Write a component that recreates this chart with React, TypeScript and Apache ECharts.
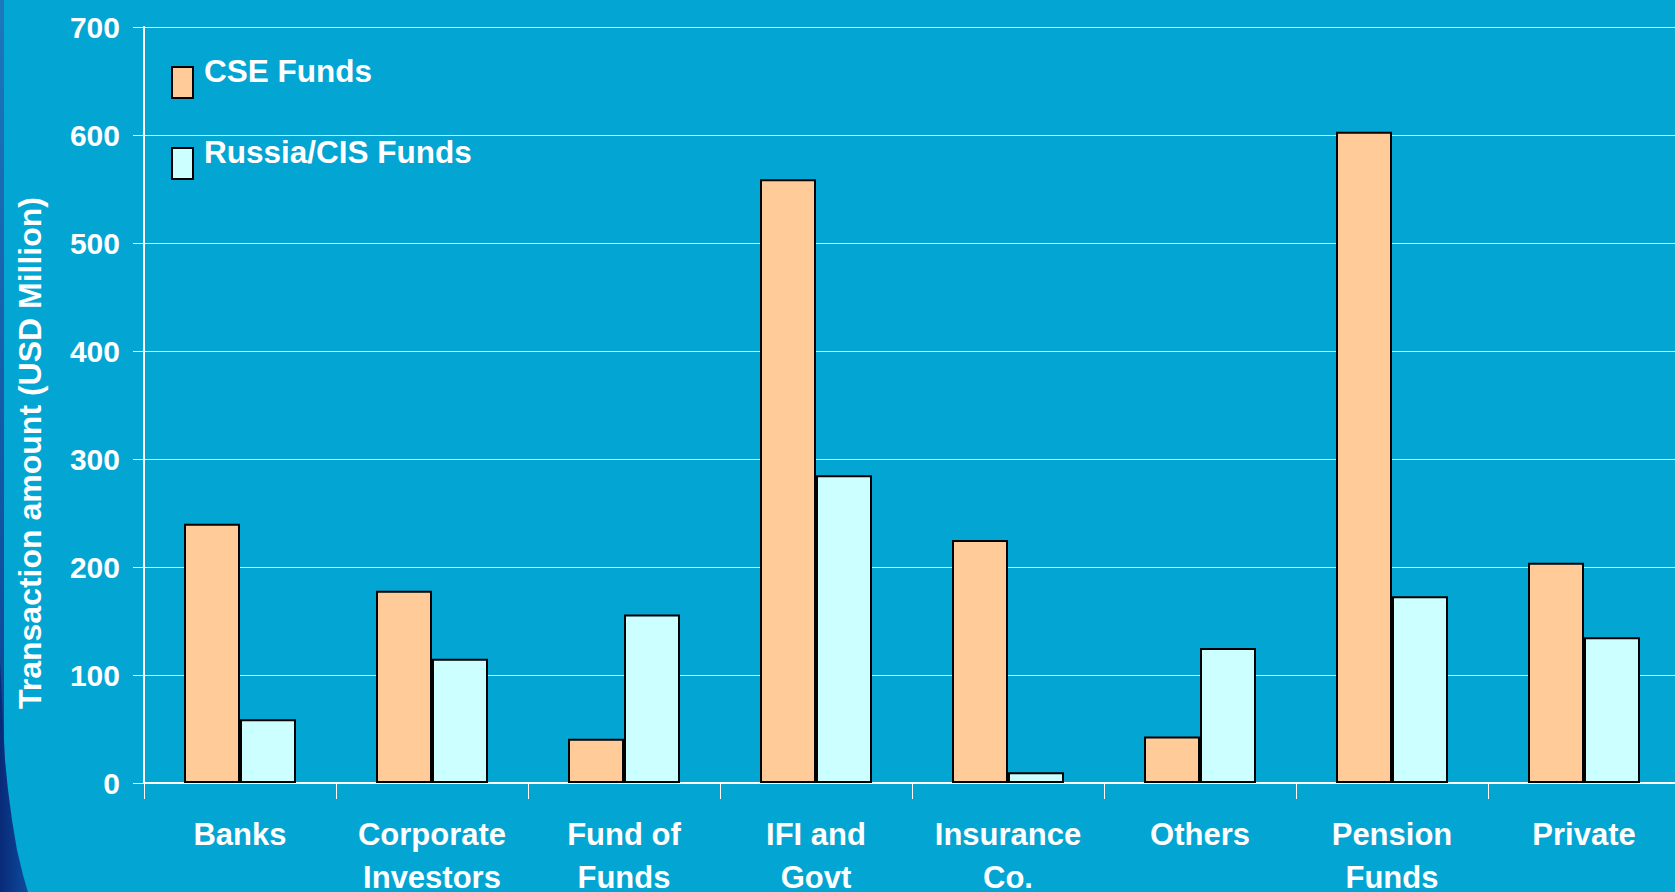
import React, { useEffect, useRef } from "react";
import * as echarts from "echarts";

const categories = [
  "Banks",
  "Corporate\nInvestors",
  "Fund of\nFunds",
  "IFI and\nGovt",
  "Insurance\nCo.",
  "Others",
  "Pension\nFunds",
  "Private",
];
const cseFunds = [240, 178, 41, 559, 225, 43, 603, 204];
const russiaCisFunds = [59, 115, 156, 285, 10, 125, 173, 135];
const seriesNames = ["CSE Funds", "Russia/CIS Funds"];
const seriesColors = ["#FFCC99", "#CCFFFF"];
const yMin = 0;
const yMax = 700;
const yInterval = 100;
const yTitle = "Transaction amount (USD Million)";

const FONT = "'Liberation Sans', Arial, Helvetica, sans-serif";

export default function App() {
  const ref = useRef<HTMLDivElement>(null);
  useEffect(() => {
    if (!ref.current) return;
    const chart = echarts.init(ref.current, null, { renderer: "svg" });
    const option: any = {
      animation: false,
      backgroundColor: "#03A5D3",
      grid: {
        left: 144,
        top: 27,
        width: 1536,
        height: 756,
        containLabel: false,
        outerBoundsMode: "none",
      },
      xAxis: {
        type: "category",
        data: categories,
        axisLine: { show: true, lineStyle: { color: "#FFFFFF", width: 2 } },
        axisTick: { show: true, length: 16, lineStyle: { color: "#FFFFFF", width: 1 } },
        axisLabel: {
          color: "#FFFFFF",
          fontFamily: FONT,
          fontWeight: "bold",
          fontSize: 31,
          lineHeight: 43,
          margin: 30,
          interval: 0,
        },
      },
      yAxis: {
        type: "value",
        min: yMin,
        max: yMax,
        interval: yInterval,
        axisLine: { show: true, lineStyle: { color: "#FFFFFF", width: 2 } },
        axisTick: { show: true, length: 11, lineStyle: { color: "#FFFFFF", width: 1 } },
        axisLabel: {
          color: "#FFFFFF",
          fontFamily: FONT,
          fontWeight: "bold",
          fontSize: 30,
          margin: 24,
          padding: [0, 0, 6, 0],
        },
        splitLine: { show: true, lineStyle: { color: "rgba(255,255,255,0.9)", width: 1 } },
      },
      series: [
        {
          name: seriesNames[0],
          type: "bar",
          data: cseFunds,
          barWidth: 56,
          barGap: "0%",
          itemStyle: { color: seriesColors[0], borderColor: "#000000", borderWidth: 2 },
        },
        {
          name: seriesNames[1],
          type: "bar",
          data: russiaCisFunds,
          barWidth: 56,
          barGap: "0%",
          itemStyle: { color: seriesColors[1], borderColor: "#000000", borderWidth: 2 },
        },
      ],
      graphic: [
        {
          type: "rect",
          z: -10,
          shape: { x: 0, y: 0, width: 4, height: 892 },
          style: {
            fill: new echarts.graphic.LinearGradient(0, 0, 0, 1, [
              { offset: 0, color: "#1C78BE" },
              { offset: 1, color: "#0A3A8A" },
            ]),
          },
        },
        {
          type: "polygon",
          z: -9,
          shape: {
            points: [
              [0, 660],
              [3, 720],
              [5, 760],
              [8, 790],
              [12, 820],
              [17, 850],
              [23, 875],
              [28, 892],
              [0, 892],
            ],
          },
          style: {
            fill: new echarts.graphic.LinearGradient(0, 0, 1, 0, [
              { offset: 0, color: "#082A78" },
              { offset: 1, color: "#0E4C9E" },
            ]),
          },
        },
        {
          type: "rect",
          shape: { x: 172, y: 67, width: 21, height: 31 },
          style: { fill: seriesColors[0], stroke: "#000000", lineWidth: 2 },
        },
        {
          type: "text",
          x: 204,
          y: 71,
          style: {
            text: seriesNames[0],
            fill: "#FFFFFF",
            font: `bold 31.5px ${FONT}`,
            verticalAlign: "middle",
          },
        },
        {
          type: "rect",
          shape: { x: 172, y: 148, width: 21, height: 31 },
          style: { fill: seriesColors[1], stroke: "#000000", lineWidth: 2 },
        },
        {
          type: "text",
          x: 204,
          y: 152,
          style: {
            text: seriesNames[1],
            fill: "#FFFFFF",
            font: `bold 31.5px ${FONT}`,
            verticalAlign: "middle",
          },
        },
        {
          type: "text",
          x: 30,
          y: 453,
          rotation: Math.PI / 2,
          style: {
            text: yTitle,
            fill: "#FFFFFF",
            font: `bold 32px ${FONT}`,
            align: "center",
            verticalAlign: "middle",
          },
        },
      ],
    };
    chart.setOption(option);
    return () => chart.dispose();
  }, []);
  return (
    <div
      ref={ref}
      style={{ position: "fixed", left: 0, top: 0, width: 1675, height: 892 }}
    />
  );
}
